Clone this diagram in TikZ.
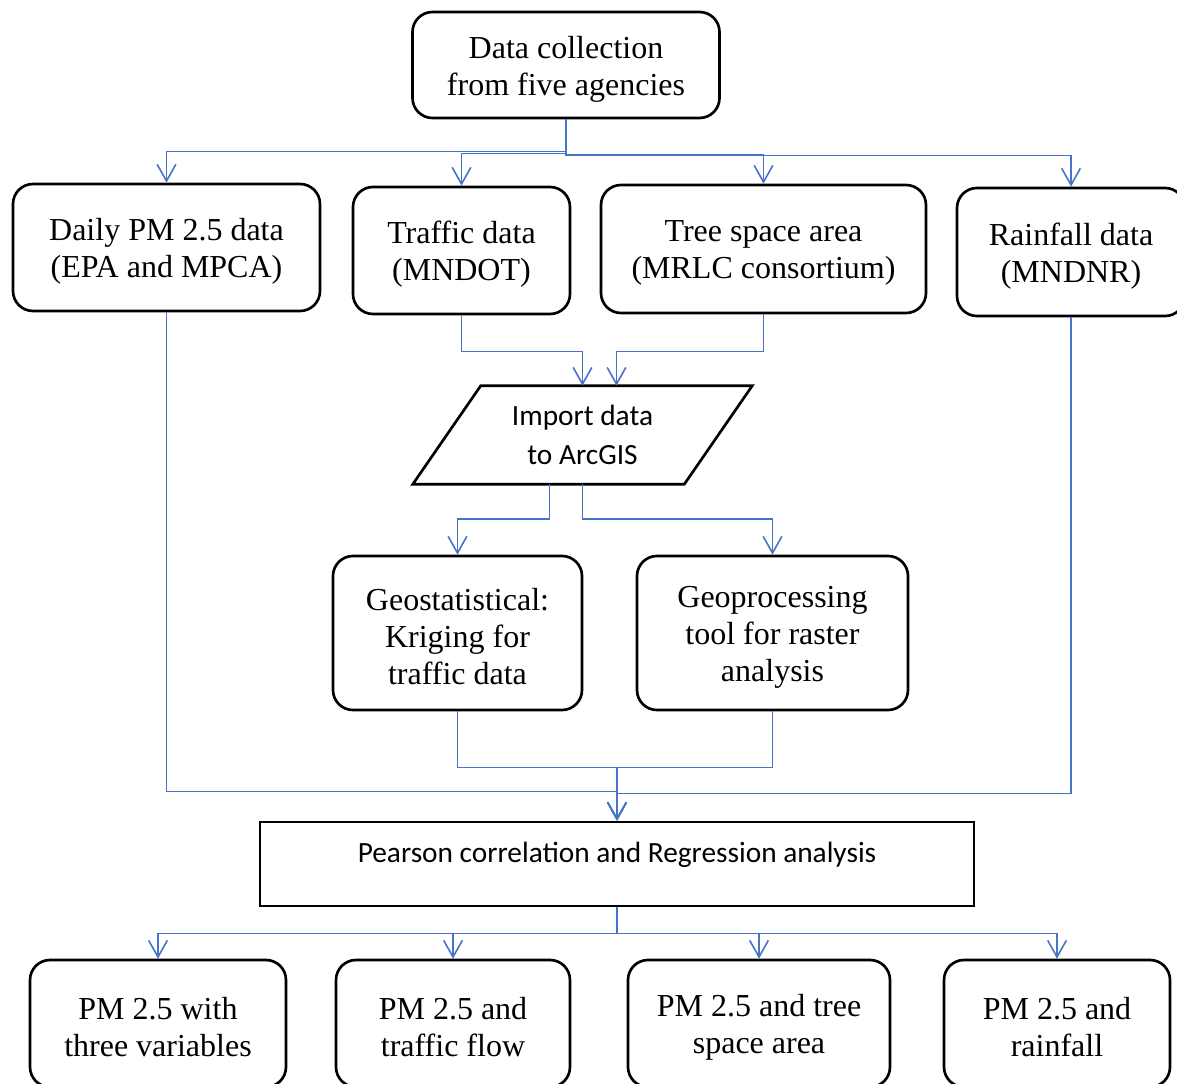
\documentclass[tikz,border=0pt]{standalone}
\usepackage{fontspec}
\setmainfont{Liberation Serif}
\newfontfamily\calib{Carlito}
\usetikzlibrary{arrows.meta,calc}
\definecolor{lineblue}{RGB}{72,116,200}
\begin{document}
\begin{tikzpicture}[x=0.75pt,y=-0.75pt,
  box/.style={draw=black,line width=2pt,rounded corners=15pt,inner sep=0pt,
    label={[align=center,font=\fontsize{24}{27.75}\selectfont,yshift=-3pt,inner sep=0pt]center:{#1}}},
  conn/.style={draw=lineblue,line width=1.2pt},
  arr/.style={conn,-{Straight Barb[length=12.5pt,width=14pt]}}]
\useasboundingbox (0,0) rectangle (1177,1084);

% nodes
\node[box={Data collection\\from five agencies},minimum width=230.25pt,minimum height=79.5pt] (dc) at (566,65) {};
\node[box={Daily PM 2.5 data\\(EPA and MPCA)},minimum width=230.25pt,minimum height=95.25pt] (daily) at (166.5,247.5) {};
\node[box={Traffic data\\(MNDOT)},minimum width=162.75pt,minimum height=95.25pt] (traffic) at (461.5,250.5) {};
\node[box={Tree space area\\(MRLC consortium)},minimum width=243.75pt,minimum height=96pt] (tree) at (763.5,249) {};
\node[box={Rainfall data\\(MNDNR)},minimum width=171pt,minimum height=96pt] (rain) at (1071,252) {};

% parallelogram
\node[minimum width=254.25pt,minimum height=73.5pt,inner sep=0pt,align=center,
  font=\calib\fontsize{22}{29}\selectfont] (para) at (582.5,435) {Import data\\to ArcGIS};
\draw[line width=2pt,line join=miter] ($(para.north west)+(68,0)$) -- (para.north east)
  -- ($(para.south east)+(-68,0)$) -- (para.south west) -- cycle;
\coordinate (ptop) at ($(para.north)+(34,0)$);
\coordinate (pbot) at ($(para.south)+(-33,0)$);

\node[box={Geostatistical:\\Kriging for\\traffic data},minimum width=186.75pt,minimum height=115.5pt] (geo1) at (457.5,633) {};
\node[box={Geoprocessing\\tool for raster\\analysis},minimum width=203.25pt,minimum height=115.5pt] (geo2) at (772.5,633) {};

\node[draw=black,line width=2pt,minimum width=535.5pt,minimum height=63pt,inner sep=0pt,
  font=\calib\fontsize{22}{29}\selectfont,text height=15pt,text depth=17.5pt] (pear) at (617,864)
  {Pearson correlation and Regression analysis};

\node[box={PM 2.5 with\\three variables},minimum width=192pt,minimum height=95.25pt] (b1) at (158,1023.5) {};
\node[box={PM 2.5 and\\traffic flow},minimum width=175.5pt,minimum height=95.25pt] (b2) at (453,1023.5) {};
\node[box={PM 2.5 and tree\\space area},minimum width=196.5pt,minimum height=95.25pt] (b3) at (759,1023.5) {};
\node[box={PM 2.5 and\\rainfall},minimum width=169.5pt,minimum height=95.25pt] (b4) at (1057,1023.5) {};

% connectors top
\draw[arr] (dc.south) -- ++(0,32) -| (daily.north);
\draw[arr] (dc.south) -- ++(0,34) -| (traffic.north);
\draw[arr] (dc.south) -- ++(0,35) -| (tree.north);
\draw[arr] (dc.south) -- ++(0,36) -| (rain.north);

% to parallelogram
\draw[arr] (traffic.south) -- ++(0,36) -| (para.north);
\draw[arr] (tree.south) -- ++(0,37) -| (ptop);

% from parallelogram
\draw[arr] (pbot) -- ++(0,35) -| (geo1.north);
\draw[arr] (para.south) -- ++(0,35) -| (geo2.north);

% to pearson
\draw[arr] (geo1.south) -- ++(0,56) -| (pear.north);
\draw[arr] (geo2.south) -- ++(0,56) -| (pear.north);
\draw[arr] (daily.south) -- ++(0,479) -| (pear.north);
\draw[arr] (rain.south) -- ++(0,476) -| (pear.north);

% from pearson
\draw[arr] (pear.south) -- ++(0,26) -| (b1.north);
\draw[arr] (pear.south) -- ++(0,26) -| (b2.north);
\draw[arr] (pear.south) -- ++(0,26) -| (b3.north);
\draw[arr] (pear.south) -- ++(0,26) -| (b4.north);
\end{tikzpicture}
\end{document}
